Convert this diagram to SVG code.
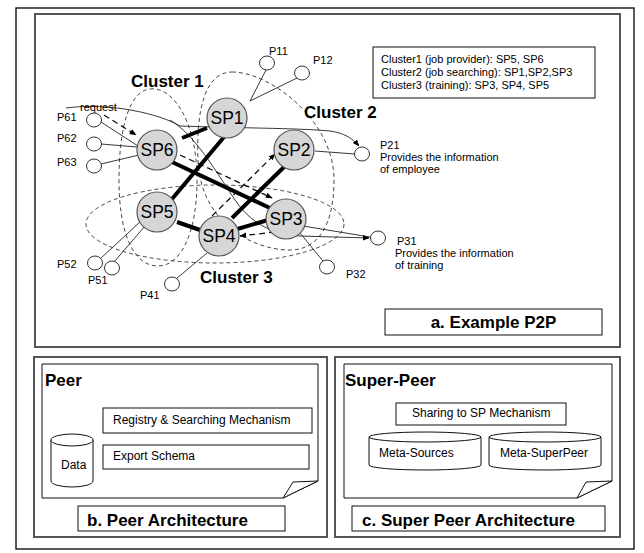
<svg xmlns="http://www.w3.org/2000/svg" width="644" height="553" viewBox="0 0 644 553">
<defs>
<style>
text{font-family:"Liberation Sans",Arial,sans-serif;fill:#000}
.sm{font-size:11px}
.lg{font-size:12px}
.leg{font-size:11px}
.cl{font-size:17px;font-weight:bold}
.ttl{font-size:17px;font-weight:bold}
.sp{font-size:17.5px;text-anchor:middle}
.spc{fill:#d6d6d6;stroke:#555;stroke-width:1.2}
.pc{fill:#fff;stroke:#333;stroke-width:1}
.thin{fill:none;stroke:#222;stroke-width:0.9}
.thick{fill:none;stroke:#000;stroke-width:4}
.dash{fill:none;stroke:#111;stroke-width:1.3;stroke-dasharray:6,4}
.clu{fill:none;stroke:#333;stroke-width:0.9;stroke-dasharray:4,3}
.panel{fill:#fff;stroke:#555;stroke-width:2}
.box{fill:#fff;stroke:#111;stroke-width:1}
</style>
<marker id="ah" viewBox="0 0 10 10" refX="9" refY="5" markerWidth="7" markerHeight="7" orient="auto" markerUnits="userSpaceOnUse">
<path d="M0,1 L10,5 L0,9 Z" fill="#000"/>
</marker>
</defs>
<rect x="0" y="0" width="644" height="553" fill="#fff"/>
<rect x="16" y="8" width="618" height="541" fill="none" stroke="#000" stroke-width="1.3"/>
<g id="panel-a">
<rect class="panel" x="35" y="14" width="585" height="333"/>
<rect class="box" x="385" y="309" width="217" height="26"/>
<text class="ttl" x="493.5" y="328" text-anchor="middle">a. Example P2P</text>
</g>
<g id="legend">
<rect class="box" x="373" y="47" width="222" height="51"/>
<text class="leg" x="381" y="63">Cluster1 (job provider): SP5, SP6</text>
<text class="leg" x="381" y="76">Cluster2 (job searching): SP1,SP2,SP3</text>
<text class="leg" x="381" y="89">Cluster3 (training): SP3, SP4, SP5</text>
</g>
<g id="clusters">
<path class="clu" d="M150,89 C172,86 197,120 197,180 C197,235 180,266 158,266 C134,266 119,235 119,180 C119,125 130,91 150,89 Z"/>
<path class="clu" d="M232,72 C270,72 334,120 334,180 C334,225 318,250 290,250 C250,250 200,220 198,160 C196,110 205,72 232,72 Z"/>
<ellipse class="clu" cx="215" cy="224" rx="129" ry="39"/>
<text class="cl" x="131" y="87">Cluster 1</text>
<text class="cl" x="304" y="118">Cluster 2</text>
<text class="cl" x="200" y="283">Cluster 3</text>
</g>
<g id="connectors">
<line class="thin" x1="101" y1="122" x2="138" y2="146"/>
<line class="thin" x1="101" y1="144" x2="137" y2="147"/>
<line class="thin" x1="101" y1="164" x2="139" y2="155"/>
<line class="thin" x1="266" y1="70" x2="250" y2="101"/>
<line class="thin" x1="297" y1="78" x2="250" y2="101"/>
<line class="thin" x1="315" y1="151" x2="355" y2="154"/>
<line class="thin" x1="303" y1="226" x2="370" y2="237"/>
<line class="thin" x1="323" y1="261" x2="300" y2="233"/>
<line class="thin" x1="176" y1="279" x2="207" y2="253"/>
<line class="thin" x1="114" y1="262" x2="145" y2="226"/>
<line class="thin" x1="100" y1="259" x2="141" y2="221"/>
<path class="thin" d="M66,108 C110,102 160,114 180,126 C230,128 300,128 330,131 C344,133 352,138 359,146" marker-end="url(#ah)"/>
<path class="thin" d="M170,120 C195,135 215,170 235,200 C250,222 270,234 300,236 L369,238" marker-end="url(#ah)"/>
<line class="dash" x1="104" y1="115" x2="136" y2="135" marker-end="url(#ah)"/>
<line class="dash" x1="180" y1="155" x2="272" y2="198" marker-end="url(#ah)"/>
<line class="dash" x1="212" y1="216" x2="275" y2="154" marker-end="url(#ah)"/>
<line class="dash" x1="275" y1="232" x2="240" y2="236" marker-end="url(#ah)"/>
<line class="thick" x1="182" y1="138" x2="207" y2="128"/>
<line class="thick" x1="224" y1="137" x2="172" y2="199"/>
<line class="thick" x1="172" y1="162" x2="270" y2="208"/>
<line class="thick" x1="284" y1="167" x2="232" y2="218"/>
<line class="thick" x1="177" y1="222" x2="200" y2="230"/>
<line class="thick" x1="234" y1="230" x2="268" y2="220"/>
</g>
<g id="SP1"><circle class="spc" cx="227" cy="118" r="20"/><text class="sp" x="227" y="124">SP1</text></g>
<g id="SP2"><circle class="spc" cx="294" cy="150" r="20"/><text class="sp" x="294" y="156">SP2</text></g>
<g id="SP3"><circle class="spc" cx="286" cy="219" r="20"/><text class="sp" x="286" y="225">SP3</text></g>
<g id="SP4"><circle class="spc" cx="219" cy="236" r="20"/><text class="sp" x="219" y="242">SP4</text></g>
<g id="SP5"><circle class="spc" cx="157" cy="212" r="20"/><text class="sp" x="157" y="218">SP5</text></g>
<g id="SP6"><circle class="spc" cx="157" cy="150" r="20"/><text class="sp" x="157" y="156">SP6</text></g>
<g id="P11"><ellipse class="pc" cx="267" cy="63" rx="7.5" ry="7"/><text class="sm" x="269" y="55">P11</text></g>
<g id="P12"><ellipse class="pc" cx="302" cy="73" rx="7.5" ry="7"/><text class="sm" x="313" y="64">P12</text></g>
<g id="P61"><ellipse class="pc" cx="94" cy="120" rx="7.5" ry="7"/><text class="sm" x="57" y="121">P61</text><text class="sm" x="80" y="111">request</text></g>
<g id="P62"><ellipse class="pc" cx="94" cy="144" rx="7.5" ry="7"/><text class="sm" x="57" y="142">P62</text></g>
<g id="P63"><ellipse class="pc" cx="94" cy="166" rx="7.5" ry="7"/><text class="sm" x="57" y="166">P63</text></g>
<g id="P21"><ellipse class="pc" cx="362" cy="154" rx="7.5" ry="7"/><text class="sm" x="380" y="149">P21</text><text class="sm" x="380" y="160.5">Provides the information</text><text class="sm" x="380" y="173">of employee</text></g>
<g id="P31"><ellipse class="pc" cx="378" cy="238" rx="7.5" ry="7"/><text class="sm" x="397" y="245">P31</text><text class="sm" x="395" y="256.5">Provides the information</text><text class="sm" x="395" y="269">of training</text></g>
<g id="P32"><ellipse class="pc" cx="327" cy="267" rx="7.5" ry="7"/><text class="sm" x="346" y="278">P32</text></g>
<g id="P41"><ellipse class="pc" cx="172" cy="284" rx="7.5" ry="7"/><text class="sm" x="140" y="299">P41</text></g>
<g id="P51"><ellipse class="pc" cx="112" cy="268" rx="7.5" ry="7"/><text class="sm" x="88" y="284">P51</text></g>
<g id="P52"><ellipse class="pc" cx="95" cy="263" rx="7.5" ry="7"/><text class="sm" x="57" y="268">P52</text></g>
<g id="panel-b">
<rect class="panel" x="34" y="357" width="293" height="180"/>
<path class="box" d="M42,364 H318 V481 L283,498 H42 Z"/>
<path class="box" d="M283,498 L293,482 L318,481 Z"/>
<text class="ttl" x="45" y="386">Peer</text>
<rect class="box" x="103" y="408" width="209" height="25"/>
<text class="lg" x="113" y="424">Registry &amp; Searching Mechanism</text>
<rect class="box" x="103" y="445" width="206" height="24"/>
<text class="lg" x="113" y="460">Export Schema</text>
<path class="box" d="M51,440 V481 A21,6 0 0 0 93,481 V440"/>
<ellipse class="box" cx="72" cy="440" rx="21" ry="6"/>
<text class="lg" x="61" y="469">Data</text>
<rect class="box" x="78" y="506" width="207" height="25"/>
<text class="ttl" x="87" y="526">b. Peer Architecture</text>
</g>
<g id="panel-c">
<rect class="panel" x="335" y="357" width="285" height="180"/>
<path class="box" d="M344,364 H612 V481 L577,498 H344 Z"/>
<path class="box" d="M577,498 L586,482 L612,481 Z"/>
<text class="ttl" x="345" y="386">Super-Peer</text>
<rect class="box" x="396" y="403" width="170" height="22"/>
<text class="lg" x="412" y="417">Sharing to SP Mechanism</text>
<path class="box" d="M369,437 V465 A56,5 0 0 0 481,465 V437"/>
<ellipse class="box" cx="425" cy="437" rx="56" ry="5"/>
<text class="lg" x="379" y="457">Meta-Sources</text>
<path class="box" d="M489,437 V465 A56,5 0 0 0 601,465 V437"/>
<ellipse class="box" cx="545" cy="437" rx="56" ry="5"/>
<text class="lg" x="500" y="457">Meta-SuperPeer</text>
<rect class="box" x="352" y="506" width="253" height="25"/>
<text class="ttl" x="362" y="526">c. Super Peer Architecture</text>
</g>
</svg>
